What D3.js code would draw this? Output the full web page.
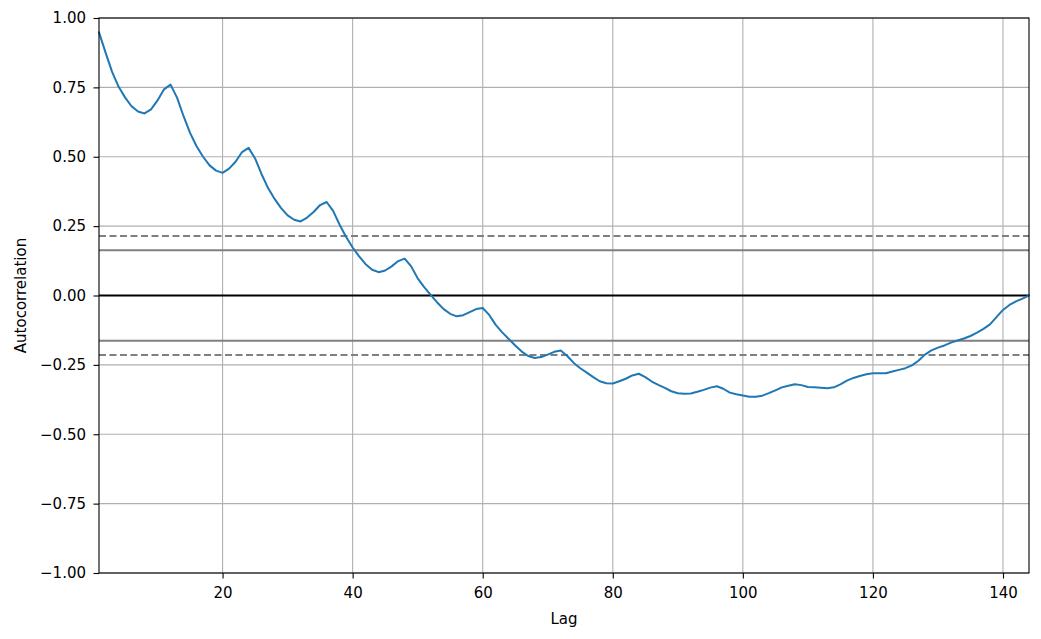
<!DOCTYPE html>
<html><head><meta charset="utf-8">
<script src="https://cdn.jsdelivr.net/npm/d3@7"></script>
<style>
body{margin:0;background:#fff;}
text{font-family:"DejaVu Sans",sans-serif;}
</style></head>
<body><svg id="c" width="1041" height="639"></svg>
<script>
const lags = d3.range(1, 145);
const acf = [
0.948,0.876,0.807,0.753,0.714,0.682,0.663,0.656,0.671,0.703,0.743,0.760,
0.713,0.646,0.586,0.538,0.500,0.469,0.450,0.442,0.457,0.482,0.517,0.532,
0.494,0.437,0.387,0.348,0.315,0.289,0.273,0.267,0.281,0.301,0.326,0.337,
0.305,0.255,0.211,0.173,0.141,0.113,0.093,0.084,0.090,0.105,0.124,0.133,
0.105,0.062,0.030,0.002,-0.025,-0.049,-0.066,-0.075,-0.071,-0.060,-0.049,-0.045,
-0.070,-0.106,-0.133,-0.157,-0.180,-0.202,-0.218,-0.225,-0.222,-0.213,-0.203,-0.198,
-0.218,-0.243,-0.262,-0.278,-0.294,-0.309,-0.316,-0.317,-0.309,-0.300,-0.288,-0.282,
-0.294,-0.310,-0.322,-0.333,-0.345,-0.352,-0.354,-0.353,-0.347,-0.340,-0.332,-0.327,
-0.336,-0.350,-0.356,-0.360,-0.365,-0.365,-0.361,-0.352,-0.342,-0.331,-0.325,-0.320,
-0.323,-0.330,-0.331,-0.332,-0.334,-0.331,-0.320,-0.307,-0.297,-0.290,-0.284,-0.280,
-0.280,-0.280,-0.274,-0.268,-0.262,-0.252,-0.235,-0.213,-0.198,-0.188,-0.180,-0.170,
-0.162,-0.155,-0.146,-0.134,-0.120,-0.104,-0.078,-0.052,-0.034,-0.021,-0.011,0.000
];
const xTicks = [20, 40, 60, 80, 100, 120, 140];
const yTicks = [-1, -0.75, -0.5, -0.25, 0, 0.25, 0.5, 0.75, 1];
const conf95 = 0.1633;   // solid grey
const conf99 = 0.2146;   // dashed grey

const svg = d3.select("#c");
const L = 99, R = 1029, T = 18, B = 573;
const x = d3.scaleLinear().domain([1, 144]).range([L, R]);
const y = d3.scaleLinear().domain([-1, 1]).range([B, T]);

// grid
const g = svg.append("g");
g.selectAll(".gx").data(xTicks).enter().append("line")
  .attr("x1", d => x(d)).attr("x2", d => x(d)).attr("y1", T).attr("y2", B)
  .attr("stroke", "#b0b0b0").attr("stroke-width", 1.1);
g.selectAll(".gy").data(yTicks).enter().append("line")
  .attr("x1", L).attr("x2", R).attr("y1", d => y(d)).attr("y2", d => y(d))
  .attr("stroke", "#b0b0b0").attr("stroke-width", 1.1);

// reference lines
const hl = (v, color, dash) => svg.append("line")
  .attr("x1", L).attr("x2", R).attr("y1", y(v)).attr("y2", y(v))
  .attr("stroke", color).attr("stroke-width", 2)
  .attr("stroke-dasharray", dash || null);
hl(conf99, "grey", "7,3.5");
hl(conf95, "grey");
hl(0, "black");
hl(-conf95, "grey");
hl(-conf99, "grey", "7,3.5");

// line
svg.append("path").datum(lags)
  .attr("d", d3.line().x(d => x(d)).y((d, i) => y(acf[i])))
  .attr("fill", "none").attr("stroke", "#1f77b4").attr("stroke-width", 2)
  .attr("stroke-linejoin", "round").attr("stroke-linecap", "square");

// axes
const xa = svg.append("g").attr("transform", `translate(0,${B})`)
  .call(d3.axisBottom(x).tickValues(xTicks).tickSize(5.5).tickPadding(8.5).tickFormat(d3.format("d")));
const ya = svg.append("g").attr("transform", `translate(${L},0)`)
  .call(d3.axisLeft(y).tickValues(yTicks).tickSize(5.5).tickPadding(7.5).tickFormat(d3.format(".2f")));
[xa, ya].forEach(a => {
  a.select(".domain").remove();
  a.selectAll("text").attr("font-size", 15).attr("fill", "#000").attr("font-family", "DejaVu Sans");
  a.selectAll("line").attr("stroke", "#000").attr("stroke-width", 1.1);
});

// frame
svg.append("rect").attr("x", L).attr("y", T).attr("width", R - L).attr("height", B - T)
  .attr("fill", "none").attr("stroke", "#000").attr("stroke-width", 1.1);

// labels
svg.append("text").attr("x", (L + R) / 2).attr("y", 624).attr("text-anchor", "middle")
  .attr("font-size", 15).text("Lag");
svg.append("text").attr("transform", `translate(26,${(T + B) / 2}) rotate(-90)`)
  .attr("text-anchor", "middle").attr("font-size", 15).text("Autocorrelation");
</script></body></html>
